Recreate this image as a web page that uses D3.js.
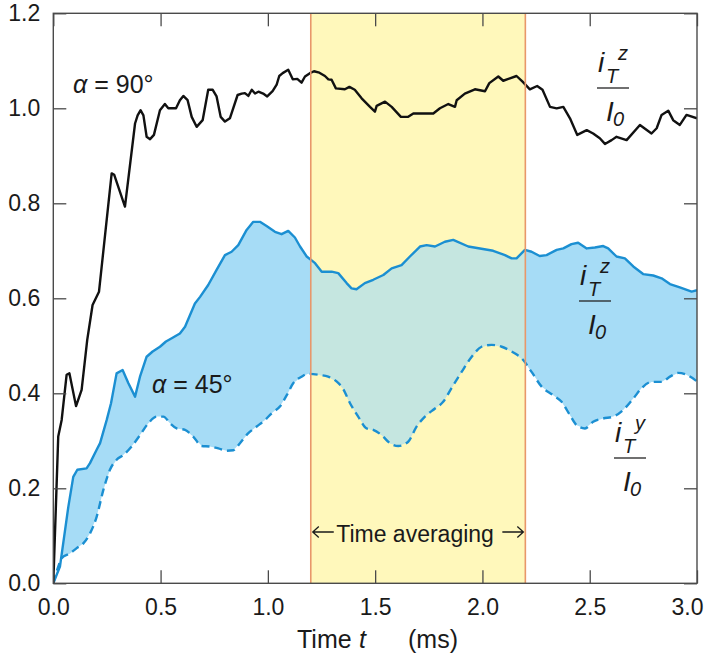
<!DOCTYPE html>
<html>
<head>
<meta charset="utf-8">
<script src="https://cdn.jsdelivr.net/npm/d3@7"></script>
<style>
  html, body { margin: 0; padding: 0; background: #ffffff; }
  svg { display: block; }
  text { font-family: "Liberation Sans", Arial, Helvetica, sans-serif; fill: #1a1a1a; }
</style>
</head>
<body>
<svg id="chart" width="704" height="666"></svg>
<script>
// α = 90°: transmitted current i_T^z / I_0 versus time (ms)
const alpha90Time = [0, 0.023, 0.039, 0.062, 0.075, 0.106, 0.132, 0.158, 0.183, 0.213, 0.272, 0.284, 0.334, 0.381, 0.393, 0.407, 0.420, 0.435, 0.451, 0.469, 0.497, 0.520, 0.536, 0.572, 0.590, 0.606, 0.626, 0.645, 0.668, 0.696, 0.722, 0.743, 0.761, 0.780, 0.800, 0.823, 0.859, 0.878, 0.893, 0.909, 0.925, 0.940, 0.956, 0.978, 0.997, 1.022, 1.041, 1.053, 1.069, 1.095, 1.116, 1.137, 1.157, 1.173, 1.196, 1.215, 1.240, 1.266, 1.282, 1.297, 1.317, 1.359, 1.380, 1.405, 1.437, 1.476, 1.499, 1.507, 1.546, 1.577, 1.620, 1.654, 1.678, 1.771, 1.802, 1.841, 1.872, 1.880, 1.918, 1.965, 2.012, 2.032, 2.074, 2.097, 2.128, 2.159, 2.187, 2.221, 2.255, 2.280, 2.315, 2.346, 2.377, 2.408, 2.442, 2.486, 2.516, 2.547, 2.571, 2.602, 2.625, 2.672, 2.734, 2.788, 2.812, 2.835, 2.866, 2.889, 2.920, 2.951, 3.0];
const alpha90Z = [0, 0.309, 0.344, 0.439, 0.442, 0.373, 0.407, 0.512, 0.586, 0.614, 0.863, 0.860, 0.793, 0.968, 0.985, 0.996, 0.985, 0.940, 0.935, 0.944, 0.996, 1.009, 1.000, 1.000, 1.017, 1.026, 1.017, 0.982, 0.961, 0.975, 1.039, 1.039, 1.025, 0.982, 0.972, 0.979, 1.028, 1.031, 1.032, 1.026, 1.039, 1.031, 1.035, 1.031, 1.025, 1.036, 1.050, 1.068, 1.074, 1.081, 1.061, 1.062, 1.054, 1.067, 1.074, 1.078, 1.075, 1.068, 1.061, 1.060, 1.042, 1.040, 1.045, 1.039, 1.021, 1.003, 0.993, 1.005, 1.014, 1.003, 0.982, 0.982, 0.989, 0.989, 1.000, 1.009, 1.003, 1.017, 1.031, 1.040, 1.036, 1.053, 1.067, 1.058, 1.063, 1.068, 1.056, 1.040, 1.047, 1.039, 1.003, 1.000, 1.003, 0.979, 0.944, 0.954, 0.947, 0.937, 0.925, 0.933, 0.940, 0.933, 0.965, 0.947, 0.958, 0.986, 0.995, 0.975, 0.965, 0.986, 0.979];

// α = 45°: i_T^z / I_0 (solid)
const alpha45ZTime = [0, 0.031, 0.070, 0.093, 0.112, 0.155, 0.171, 0.202, 0.218, 0.249, 0.269, 0.295, 0.323, 0.350, 0.381, 0.404, 0.435, 0.463, 0.497, 0.525, 0.552, 0.590, 0.614, 0.660, 0.684, 0.722, 0.761, 0.800, 0.831, 0.862, 0.901, 0.932, 0.963, 0.994, 1.033, 1.064, 1.095, 1.126, 1.150, 1.181, 1.220, 1.251, 1.297, 1.328, 1.367, 1.390, 1.413, 1.452, 1.491, 1.538, 1.577, 1.623, 1.662, 1.709, 1.740, 1.779, 1.825, 1.864, 1.934, 2.050, 2.105, 2.136, 2.159, 2.198, 2.229, 2.267, 2.299, 2.346, 2.377, 2.415, 2.446, 2.486, 2.524, 2.563, 2.586, 2.625, 2.664, 2.703, 2.749, 2.796, 2.835, 2.874, 2.920, 2.975, 3.0];
const alpha45Z = [0, 0.035, 0.161, 0.224, 0.239, 0.242, 0.253, 0.281, 0.295, 0.344, 0.379, 0.442, 0.449, 0.421, 0.393, 0.435, 0.477, 0.488, 0.498, 0.509, 0.516, 0.526, 0.540, 0.589, 0.603, 0.628, 0.660, 0.691, 0.698, 0.712, 0.744, 0.761, 0.761, 0.752, 0.740, 0.735, 0.742, 0.728, 0.709, 0.688, 0.674, 0.656, 0.656, 0.653, 0.632, 0.621, 0.619, 0.632, 0.639, 0.649, 0.663, 0.670, 0.688, 0.709, 0.712, 0.709, 0.719, 0.723, 0.709, 0.700, 0.691, 0.684, 0.684, 0.702, 0.698, 0.689, 0.691, 0.702, 0.705, 0.714, 0.717, 0.705, 0.707, 0.710, 0.705, 0.688, 0.684, 0.667, 0.651, 0.648, 0.642, 0.630, 0.623, 0.614, 0.617];

// α = 45°: i_T^y / I_0 (dashed)
const alpha45YTime = [0, 0.023, 0.039, 0.078, 0.109, 0.140, 0.171, 0.202, 0.233, 0.264, 0.295, 0.326, 0.365, 0.404, 0.443, 0.482, 0.513, 0.544, 0.575, 0.614, 0.652, 0.692, 0.730, 0.769, 0.808, 0.839, 0.870, 0.909, 0.948, 0.987, 1.018, 1.056, 1.088, 1.118, 1.157, 1.188, 1.235, 1.281, 1.320, 1.350, 1.383, 1.421, 1.460, 1.491, 1.530, 1.569, 1.608, 1.654, 1.693, 1.732, 1.779, 1.817, 1.856, 1.903, 1.950, 1.996, 2.043, 2.090, 2.136, 2.190, 2.229, 2.276, 2.330, 2.369, 2.408, 2.439, 2.478, 2.516, 2.563, 2.610, 2.656, 2.703, 2.742, 2.788, 2.835, 2.874, 2.912, 2.951, 3.0];
const alpha45Y = [0, 0.035, 0.053, 0.063, 0.074, 0.084, 0.105, 0.140, 0.196, 0.239, 0.260, 0.270, 0.288, 0.312, 0.337, 0.351, 0.351, 0.337, 0.326, 0.323, 0.309, 0.289, 0.288, 0.284, 0.279, 0.280, 0.295, 0.316, 0.330, 0.344, 0.358, 0.372, 0.396, 0.421, 0.435, 0.441, 0.439, 0.435, 0.425, 0.410, 0.379, 0.351, 0.326, 0.323, 0.312, 0.295, 0.289, 0.298, 0.330, 0.351, 0.368, 0.382, 0.411, 0.445, 0.477, 0.498, 0.502, 0.498, 0.488, 0.470, 0.445, 0.414, 0.396, 0.382, 0.354, 0.333, 0.326, 0.340, 0.347, 0.351, 0.365, 0.389, 0.411, 0.424, 0.424, 0.435, 0.443, 0.439, 0.425];

// averaging window (ms)
const averagingWindow = [1.2, 2.2];

// axis ticks
const xTicks = [0, 0.5, 1.0, 1.5, 2.0, 2.5, 3.0];
const yTicks = [0, 0.2, 0.4, 0.6, 0.8, 1.0, 1.2];

const svg = d3.select("#chart");
const plotLeft = 53.3, plotRight = 697, plotTop = 13.3, plotBottom = 583.3;

const x = d3.scaleLinear().domain([0, 3]).range([plotLeft, plotRight]);
const y = d3.scaleLinear().domain([0, 1.2]).range([plotBottom, plotTop]);

const zip = (ts, vs) => ts.map((t, i) => [t, vs[i]]);
const black90 = zip(alpha90Time, alpha90Z);
const solid45 = zip(alpha45ZTime, alpha45Z);
const dashed45 = zip(alpha45YTime, alpha45Y);

const line = d3.line().x(d => x(d[0])).y(d => y(d[1]));
const smooth = d3.line().x(d => x(d[0])).y(d => y(d[1])).curve(d3.curveMonotoneX);

// band between i_T^z and i_T^y: solid forward, dashed back
const bandPts = solid45.concat(dashed45.slice().reverse());
const bandPath = line(bandPts) + "Z";

const defs = svg.append("defs");
defs.append("clipPath").attr("id", "avgClip")
  .append("rect")
  .attr("x", x(averagingWindow[0])).attr("y", plotTop)
  .attr("width", x(averagingWindow[1]) - x(averagingWindow[0]))
  .attr("height", plotBottom - plotTop);
defs.append("clipPath").attr("id", "plotClip")
  .append("rect")
  .attr("x", plotLeft).attr("y", plotTop)
  .attr("width", plotRight - plotLeft).attr("height", plotBottom - plotTop);

// yellow averaging window
svg.append("rect")
  .attr("x", x(averagingWindow[0])).attr("y", plotTop)
  .attr("width", x(averagingWindow[1]) - x(averagingWindow[0]))
  .attr("height", plotBottom - plotTop)
  .attr("fill", "#fff8bb");

// blue fill between the α = 45° curves
const plot = svg.append("g").attr("clip-path", "url(#plotClip)");
plot.append("path").attr("d", bandPath).attr("fill", "#a6dcf6");
plot.append("path").attr("d", bandPath).attr("fill", "#c5e6e0")
  .attr("clip-path", "url(#avgClip)");

// window borders
averagingWindow.forEach(t => {
  svg.append("line")
    .attr("x1", x(t)).attr("x2", x(t)).attr("y1", plotTop).attr("y2", plotBottom)
    .attr("stroke", "#e8976a").attr("stroke-width", 1.6);
});

// curves
plot.append("path").attr("d", smooth(dashed45))
  .attr("fill", "none").attr("stroke", "#1b8fd2").attr("stroke-width", 2.4)
  .attr("stroke-dasharray", "8,5");
plot.append("path").attr("d", line(solid45))
  .attr("fill", "none").attr("stroke", "#1b8fd2").attr("stroke-width", 2.4)
  .attr("stroke-linejoin", "round");
plot.append("path").attr("d", line(black90))
  .attr("fill", "none").attr("stroke", "#111").attr("stroke-width", 2.4)
  .attr("stroke-linejoin", "round");

// axes: ticks pointing inwards on all four sides
const axisColor = "#4a4a4a";
const tickLen = 13;
const axB = svg.append("g").attr("transform", `translate(0,${plotBottom})`)
  .call(d3.axisBottom(x).tickValues(xTicks).tickSizeInner(-tickLen).tickSizeOuter(0)
    .tickPadding(15).tickFormat(d3.format(".1f")));
const axT = svg.append("g").attr("transform", `translate(0,${plotTop})`)
  .call(d3.axisTop(x).tickValues(xTicks).tickSizeInner(-tickLen).tickSizeOuter(0).tickFormat(""));
const axL = svg.append("g").attr("transform", `translate(${plotLeft},0)`)
  .call(d3.axisLeft(y).tickValues(yTicks).tickSizeInner(-tickLen).tickSizeOuter(0)
    .tickPadding(13).tickFormat(d3.format(".1f")));
const axR = svg.append("g").attr("transform", `translate(${plotRight},0)`)
  .call(d3.axisRight(y).tickValues(yTicks).tickSizeInner(-tickLen).tickSizeOuter(0).tickFormat(""));
[axB, axT, axL, axR].forEach(g => {
  g.select(".domain").remove();
  g.selectAll(".tick line").attr("stroke", axisColor).attr("stroke-width", 1.3);
  g.selectAll("text").attr("font-family", "Liberation Sans, Arial, sans-serif")
    .attr("font-size", 23).attr("fill", "#1a1a1a");
});
// keep the last x label inside the window
axB.selectAll(".tick").filter(d => d === 3).select("text")
  .attr("text-anchor", "end").attr("x", 704 - plotRight - 1);
svg.append("rect").attr("x", plotLeft).attr("y", plotTop)
  .attr("width", plotRight - plotLeft).attr("height", plotBottom - plotTop)
  .attr("fill", "none").attr("stroke", axisColor).attr("stroke-width", 1.4);

// axis title
svg.append("text").attr("x", 297).attr("y", 648).attr("font-size", 25).text("Time");
svg.append("text").attr("x", 359).attr("y", 648).attr("font-size", 25)
  .attr("font-style", "italic").text("t");
svg.append("text").attr("x", 408).attr("y", 648).attr("font-size", 25).text("(ms)");

// angle labels
function angleLabel(px, py, deg) {
  const t = svg.append("text").attr("x", px).attr("y", py).attr("font-size", 25);
  t.append("tspan").attr("font-style", "italic").text("α");
  t.append("tspan").text(" = " + deg + "°");
}
angleLabel(73, 93, 90);
angleLabel(152, 393, 45);

// averaging window annotation with thin arrows at both edges
const midY = 542, arrowY = 532;
const xa = x(averagingWindow[0]), xb = x(averagingWindow[1]);
const arrows = svg.append("g").attr("stroke", "#1a1a1a").attr("stroke-width", 1.3)
  .attr("fill", "none");
arrows.append("path").attr("d", `M${xa + 2},${arrowY}H${xa + 23}M${xa + 8},${arrowY - 5.5}L${xa + 2},${arrowY}L${xa + 8},${arrowY + 5.5}`);
arrows.append("path").attr("d", `M${xb - 2},${arrowY}H${xb - 23}M${xb - 8},${arrowY - 5.5}L${xb - 2},${arrowY}L${xb - 8},${arrowY + 5.5}`);
svg.append("text").attr("x", (xa + xb) / 2 - 3)
  .attr("y", midY).attr("font-size", 23).attr("text-anchor", "middle").text("Time averaging");

// i_T^k / I_0 fraction labels
function fraction(ix, base, sup) {
  const g = svg.append("g").attr("font-style", "italic");
  g.append("text").attr("x", ix).attr("y", base).attr("font-size", 28).text("i");
  g.append("text").attr("x", ix + 8).attr("y", base + 11).attr("font-size", 20).text("T");
  g.append("text").attr("x", ix + 20).attr("y", base - 12).attr("font-size", 20).text(sup);
  g.append("line").attr("x1", ix - 1).attr("x2", ix + 31)
    .attr("y1", base + 16).attr("y2", base + 16)
    .attr("stroke", "#222").attr("stroke-width", 1.3);
  g.append("text").attr("x", ix + 8).attr("y", base + 49).attr("font-size", 28).text("I");
  g.append("text").attr("x", ix + 15).attr("y", base + 54).attr("font-size", 20).text("0");
}
fraction(598, 72, "z");
fraction(580, 285, "z");
fraction(615, 442, "y");
</script>
</body>
</html>
